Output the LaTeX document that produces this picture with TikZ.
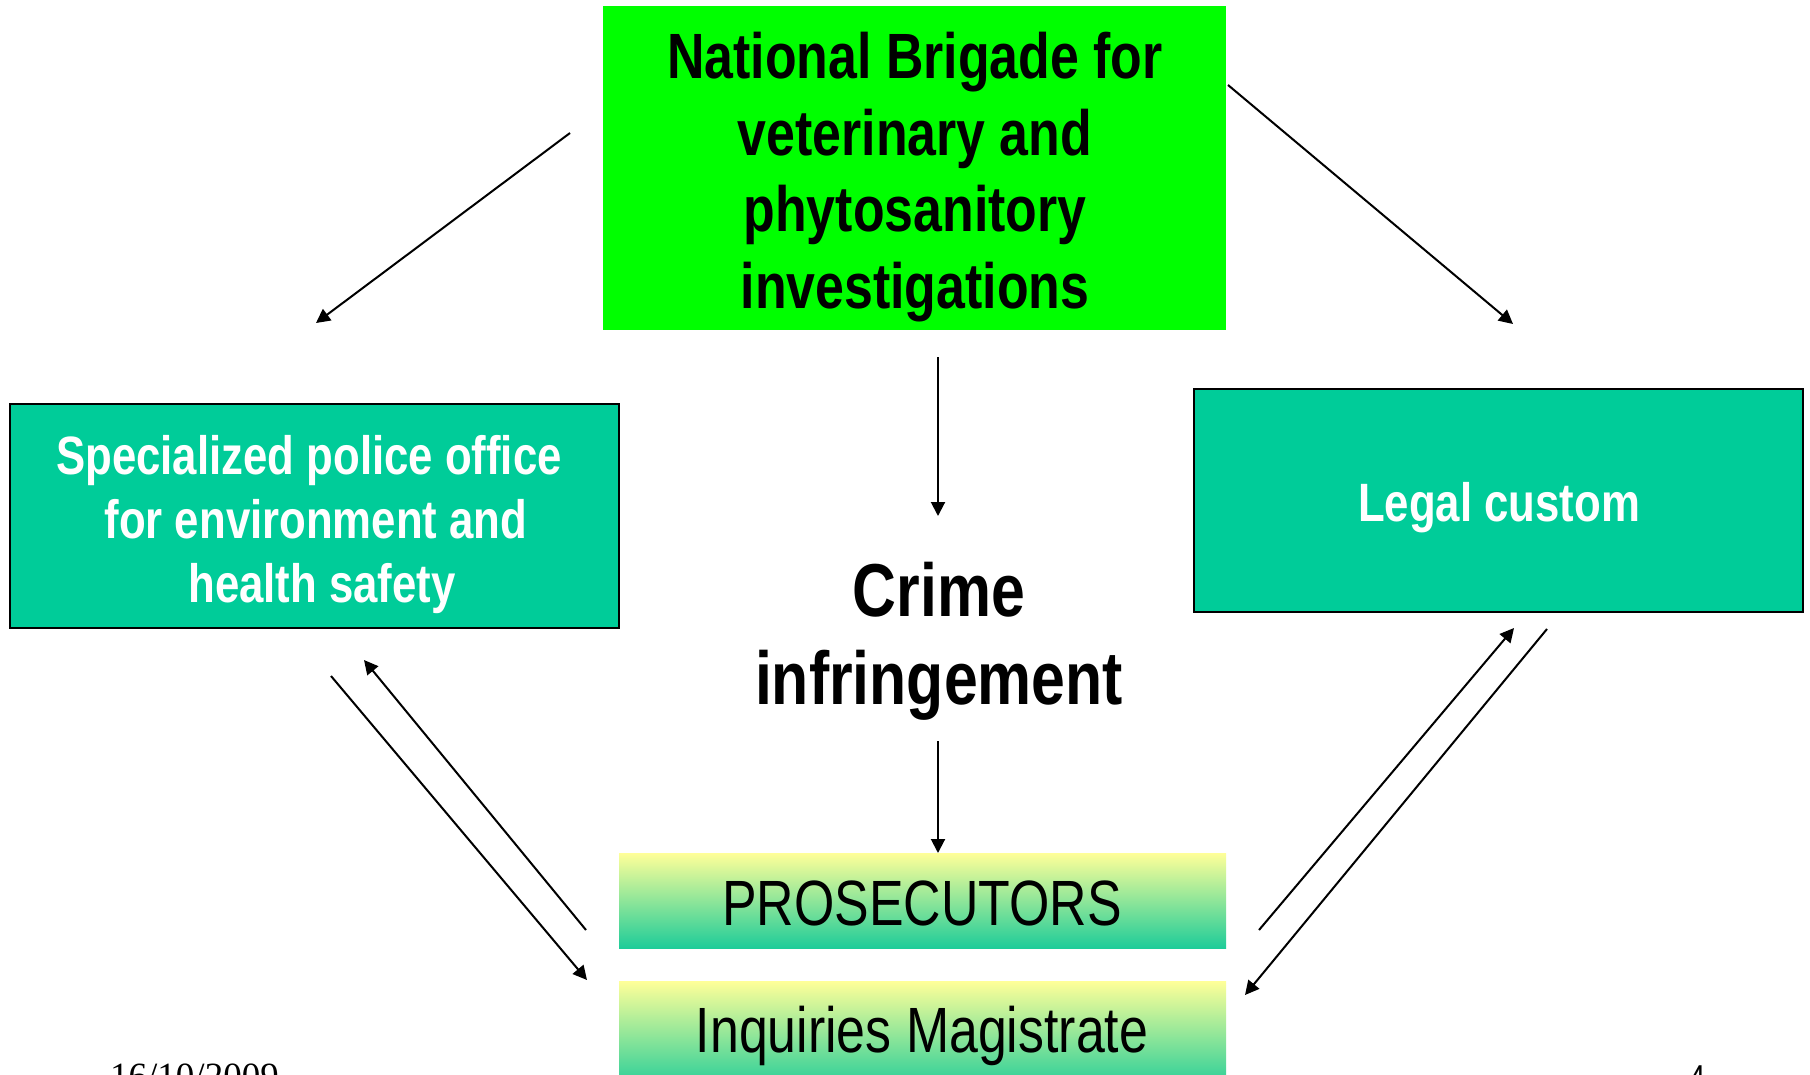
\documentclass[tikz,border=0pt]{standalone}
\usepackage{fontspec}
\usetikzlibrary{arrows.meta}
\newfontfamily\narrowfont[FakeStretch=0.81]{Liberation Sans}
\newfontfamily\seriffont{Liberation Serif}
\definecolor{brgreen}{RGB}{0,255,0}
\definecolor{tealfill}{RGB}{0,204,153}
\definecolor{lyellow}{RGB}{255,255,153}
\definecolor{gteal}{RGB}{30,204,153}
\tikzset{
  conn/.style={line width=2pt,-{Triangle[length=14pt,width=14pt]}},
  tealbox/.style={draw=black,line width=2.2pt,fill=tealfill,inner sep=0pt},
  gradbox/.style={inner sep=0pt,top color=lyellow,bottom color=gteal,shading angle=0,
    minimum width=607pt},
  plain/.style={font=\narrowfont\fontsize{64}{75}\selectfont,text=black,inner sep=0pt},
}
\begin{document}
\begin{tikzpicture}[x=1pt,y=-1pt]
\useasboundingbox (0,0) rectangle (1810,1074);
\clip (0,0) rectangle (1810,1074);
\fill[white] (0,0) rectangle (1810,1074);
% boxes
\node[fill=brgreen,inner sep=0pt,minimum width=623pt,minimum height=324pt] (nbox) at (914.5,168) {};
\node[align=center,inner sep=0pt,font=\narrowfont\bfseries\fontsize{64}{76.5}\selectfont] (ntext) at (915,177)
  {National Brigade for\\veterinary and\\phytosanitory\\investigations};
\node[tealbox,minimum width=609pt,minimum height=224pt] (police) at (314.5,516) {};
\node[align=center,inner sep=0pt,text=white,font=\narrowfont\bfseries\fontsize{54}{64}\selectfont] (ptext) at (309,525)
  {Specialized police office\\\hspace*{14pt}for environment and\\\hspace*{26pt}health safety};
\node[tealbox,minimum width=609pt,minimum height=223pt] (custom) at (1498.5,500.5) {};
\node[inner sep=0pt,text=white,font=\narrowfont\bfseries\fontsize{54}{64}\selectfont] (ctext) at (1499,508) {Legal custom};
\node[align=center,inner sep=0pt,font=\narrowfont\bfseries\fontsize{75}{88}\selectfont] (crime) at (939,641)
  {Crime\\infringement};
\node[gradbox,minimum height=95pt] (pros) at (922.5,900.5) {};
\node[plain] (prostext) at (922,903) {PROSECUTORS};
\node[gradbox,minimum height=110pt] (magi) at (922.5,1036) {};
\node[plain] (magitext) at (922,1036) {Inquiries Magistrate};
% footer
\node[anchor=base west,inner sep=0pt,font=\seriffont\fontsize{37}{40}\selectfont] (date) at (110,1088) {16/10/2009};
\node[anchor=base west,inner sep=0pt,font=\narrowfont\fontsize{36}{40}\selectfont] (page) at (1689,1090) {4};
% connector endpoints
\coordinate (a1s) at (570,133); \coordinate (a1e) at (316,323);
\coordinate (a2s) at (1228,85); \coordinate (a2e) at (1513,324);
\coordinate (a3s) at (938,357); \coordinate (a3e) at (938,516);
\coordinate (a4s) at (938,741); \coordinate (a4e) at (938,853);
\coordinate (l1s) at (331,676); \coordinate (l1e) at (587,980);
\coordinate (l2s) at (586,930); \coordinate (l2e) at (364,660);
\coordinate (r1s) at (1259,930); \coordinate (r1e) at (1514,628);
\coordinate (r2s) at (1547,629); \coordinate (r2e) at (1245,995);
\draw[conn] (a1s) -- (a1e);
\draw[conn] (a2s) -- (a2e);
\draw[conn] (a3s) -- (a3e);
\draw[conn] (a4s) -- (a4e);
\draw[conn] (l1s) -- (l1e);
\draw[conn] (l2s) -- (l2e);
\draw[conn] (r1s) -- (r1e);
\draw[conn] (r2s) -- (r2e);
\end{tikzpicture}
\end{document}
